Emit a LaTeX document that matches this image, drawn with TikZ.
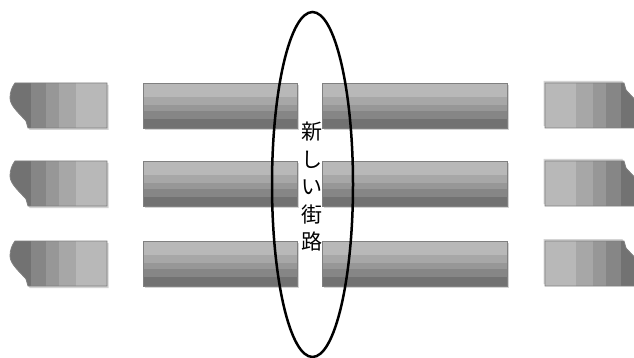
\documentclass[tikz,border=0pt]{standalone}
\usepackage{fontspec}
\usetikzlibrary{shapes.geometric}
\newfontfamily\cjk{Noto Sans CJK JP}
\definecolor{sA}{HTML}{B8B8B8}
\definecolor{sB}{HTML}{A7A7A7}
\definecolor{sC}{HTML}{979797}
\definecolor{sD}{HTML}{868686}
\definecolor{sE}{HTML}{727272}
\definecolor{edge}{HTML}{808080}
\definecolor{shade}{HTML}{D4D4D4}
\tikzset{
  pieceborder/.style={draw=edge, line width=0.8pt},
  shadowfill/.style={fill=shade},
  ring/.style={draw=black, line width=2.5pt},
  streetlabel/.style={font=\cjk\fontsize{21}{27.5}\selectfont, align=center, inner sep=0pt}
}
\def\lpath{(15,0) .. controls (12,4) and (10,9) .. (10,15) .. controls (10,23) and (20,31) .. (26,38) -- (28,45) -- (107,45) -- (107,0) -- cycle}
\newcommand\capblock{%
  \fill[shadowfill, shift={(1.5,2)}] \lpath;
  \begin{scope}
    \clip \lpath;
    \fill[sE] (0,-1) rectangle (31,46);
    \fill[sD] (31,-1) rectangle (46,46);
    \fill[sC] (46,-1) rectangle (59,46);
    \fill[sB] (59,-1) rectangle (76,46);
    \fill[sA] (76,-1) rectangle (108,46);
  \end{scope}
  \draw[pieceborder] \lpath;
}
\newcommand\midbar[2]{%
  \fill[shadowfill] (#1+1.5,2) rectangle (#2+1.5,47);
  \fill[sA] (#1,0) rectangle (#2,14);
  \fill[sB] (#1,14) rectangle (#2,22);
  \fill[sC] (#1,22) rectangle (#2,28);
  \fill[sD] (#1,28) rectangle (#2,36);
  \fill[sE] (#1,36) rectangle (#2,45);
  \draw[pieceborder] (#1,0) rectangle (#2,45);
}
\begin{document}
\begin{tikzpicture}[x=1pt,y=-1pt]
\useasboundingbox (0,0) rectangle (634,358);
\fill[white] (0,0) rectangle (634,358);
\foreach \yy in {83,161,241}{
  \begin{scope}[shift={(0,\yy)}]
    \capblock
    \midbar{143}{297}
    \midbar{322}{507}
  \end{scope}
  \begin{scope}[shift={(652,\yy+45)}, rotate=180]
    \capblock
  \end{scope}
}
\node[ring, ellipse, minimum width=81pt, minimum height=345pt, inner sep=0pt] (street) at (312.5,184.5) {};
\node[streetlabel] (name) at (312,187) {新\\し\\い\\街\\路};
\end{tikzpicture}
\end{document}
